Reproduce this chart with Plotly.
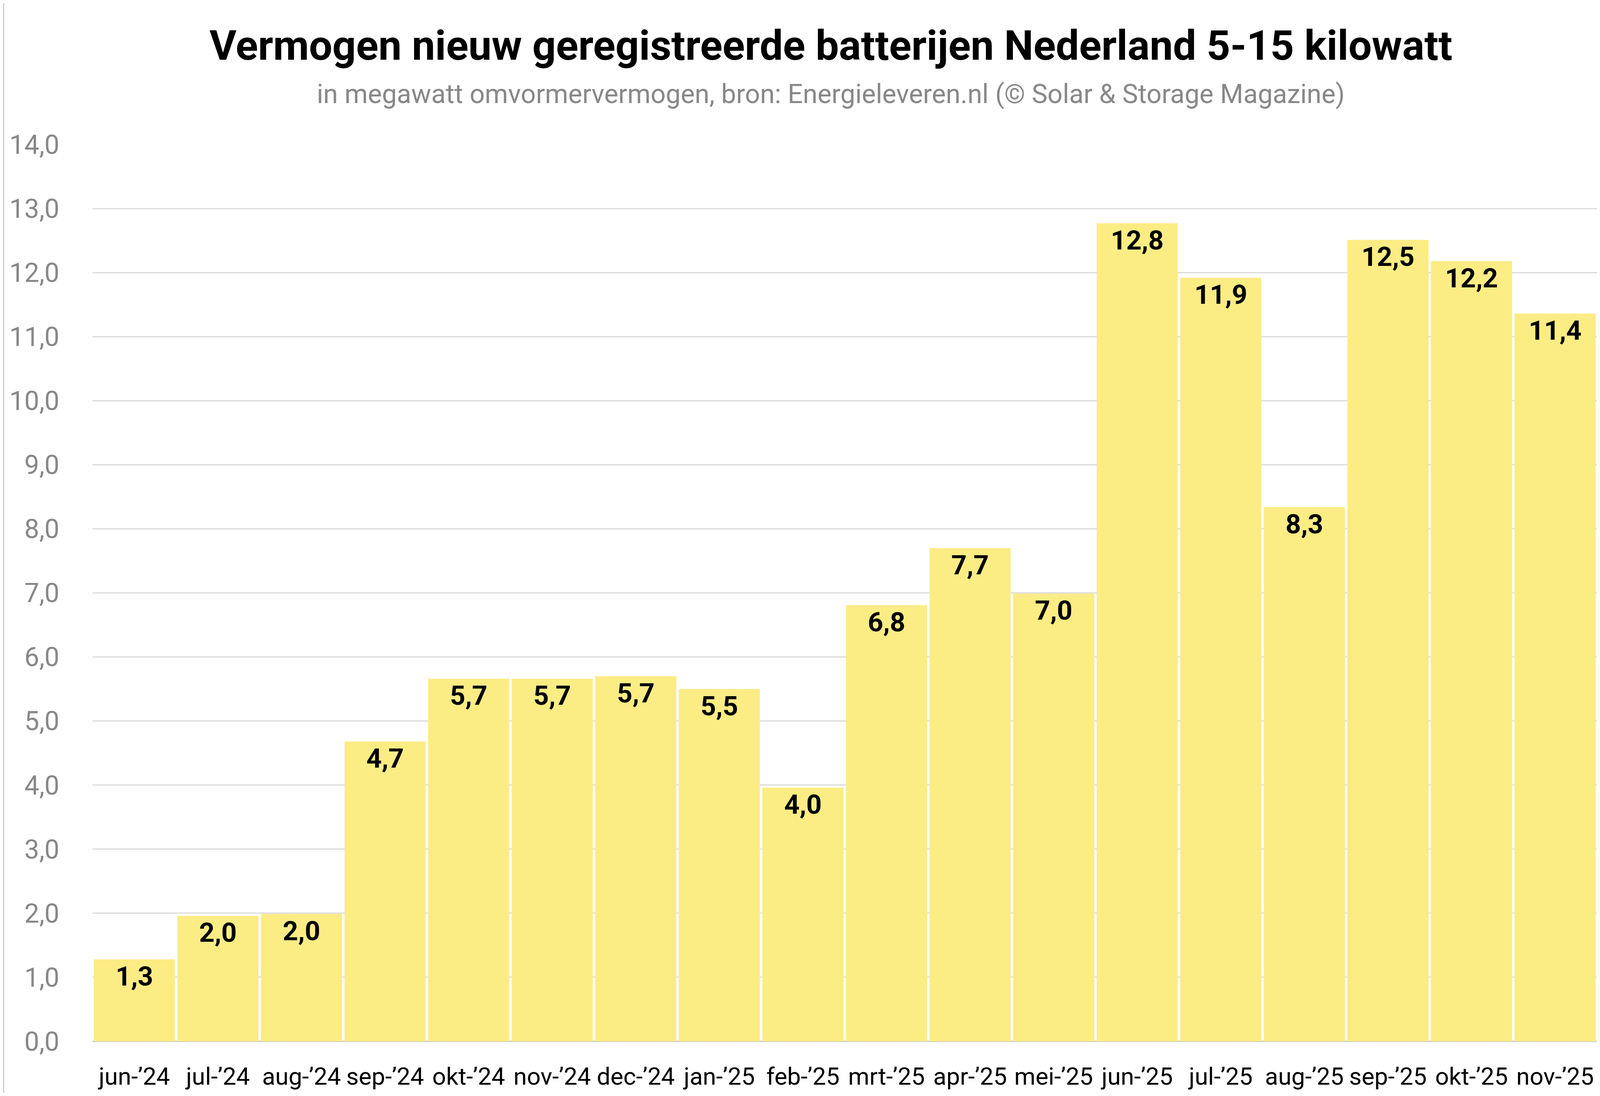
import plotly.graph_objects as go

# maanden (categorie-as)
months = ["jun-’24", "jul-’24", "aug-’24", "sep-’24", "okt-’24", "nov-’24",
          "dec-’24", "jan-’25", "feb-’25", "mrt-’25", "apr-’25", "mei-’25",
          "jun-’25", "jul-’25", "aug-’25", "sep-’25", "okt-’25", "nov-’25"]

# vermogen in MW
mw = [1.28, 1.96, 1.99, 4.68, 5.66, 5.66, 5.70, 5.50, 3.96, 6.81, 7.70, 6.99,
      12.77, 11.92, 8.34, 12.51, 12.18, 11.36]

y_ticks = [i for i in range(0, 15)]

yellow = "#fcec84"
grey = "#888888"
font = "Roboto"

# marges in px (figuur vult het venster)
ml, mr, mt, mb = 229, 0, 362, 132
plot_h = 2791 - mt - mb
plot_w = 4080 - ml - mr

fig = go.Figure()
fig.add_trace(go.Bar(
    x=months, y=mw,
    marker=dict(color=yellow, line=dict(width=0)),
    texttemplate="%{y:.1f}",
    textposition="inside",
    insidetextanchor="end",
    constraintext="none",
    textfont=dict(family=font, size=69, color="black", weight="bold"),
    hoverinfo="skip",
))

fig.update_layout(
    margin=dict(l=ml, r=mr, t=mt, b=mb),
    paper_bgcolor="white", plot_bgcolor="white",
    separators=",.",
    bargap=0.03,
    showlegend=False,
    font=dict(family=font),
    title=dict(
        text="<b>Vermogen nieuw geregistreerde batterijen Nederland 5-15 kilowatt</b>",
        x=0.5194, xanchor="center", xref="container",
        y=0.9613, yanchor="middle", yref="container",
        font=dict(family=font, size=106, color="black"),
    ),
    annotations=[dict(
        text="in megawatt omvormervermogen, bron: Energieleveren.nl (© Solar & Storage Magazine)",
        xref="paper", yref="paper",
        x=0.4908, xanchor="center",
        y=1 + (mt - 233) / plot_h, yanchor="middle",
        showarrow=False,
        font=dict(family=font, size=68, color=grey),
    )],
    shapes=[dict(
        type="line", xref="paper", yref="paper",
        x0=(1 - ml) / plot_w, x1=(1 - ml) / plot_w,
        y0=-mb / plot_h, y1=1 + mt / plot_h,
        line=dict(color="#c4c4c4", width=3),
    )],
)

fig.update_xaxes(
    type="category",
    range=[-0.5, len(months) - 0.5],
    showgrid=False, showline=False, ticks="",
    tickangle=0,
    tickfont=dict(family=font, size=62, color="black"),
    ticklabelstandoff=48,
)

fig.update_yaxes(
    range=[0, 14],
    tickvals=y_ticks,
    tickformat=".1f",
    showgrid=True, gridcolor="#dadada", gridwidth=3,
    zeroline=True, zerolinecolor="#d0d0d0", zerolinewidth=4,
    showline=False, ticks="",
    tickfont=dict(family=font, size=68, color=grey),
    ticklabelstandoff=84,
)

fig.write_html("out.html")
